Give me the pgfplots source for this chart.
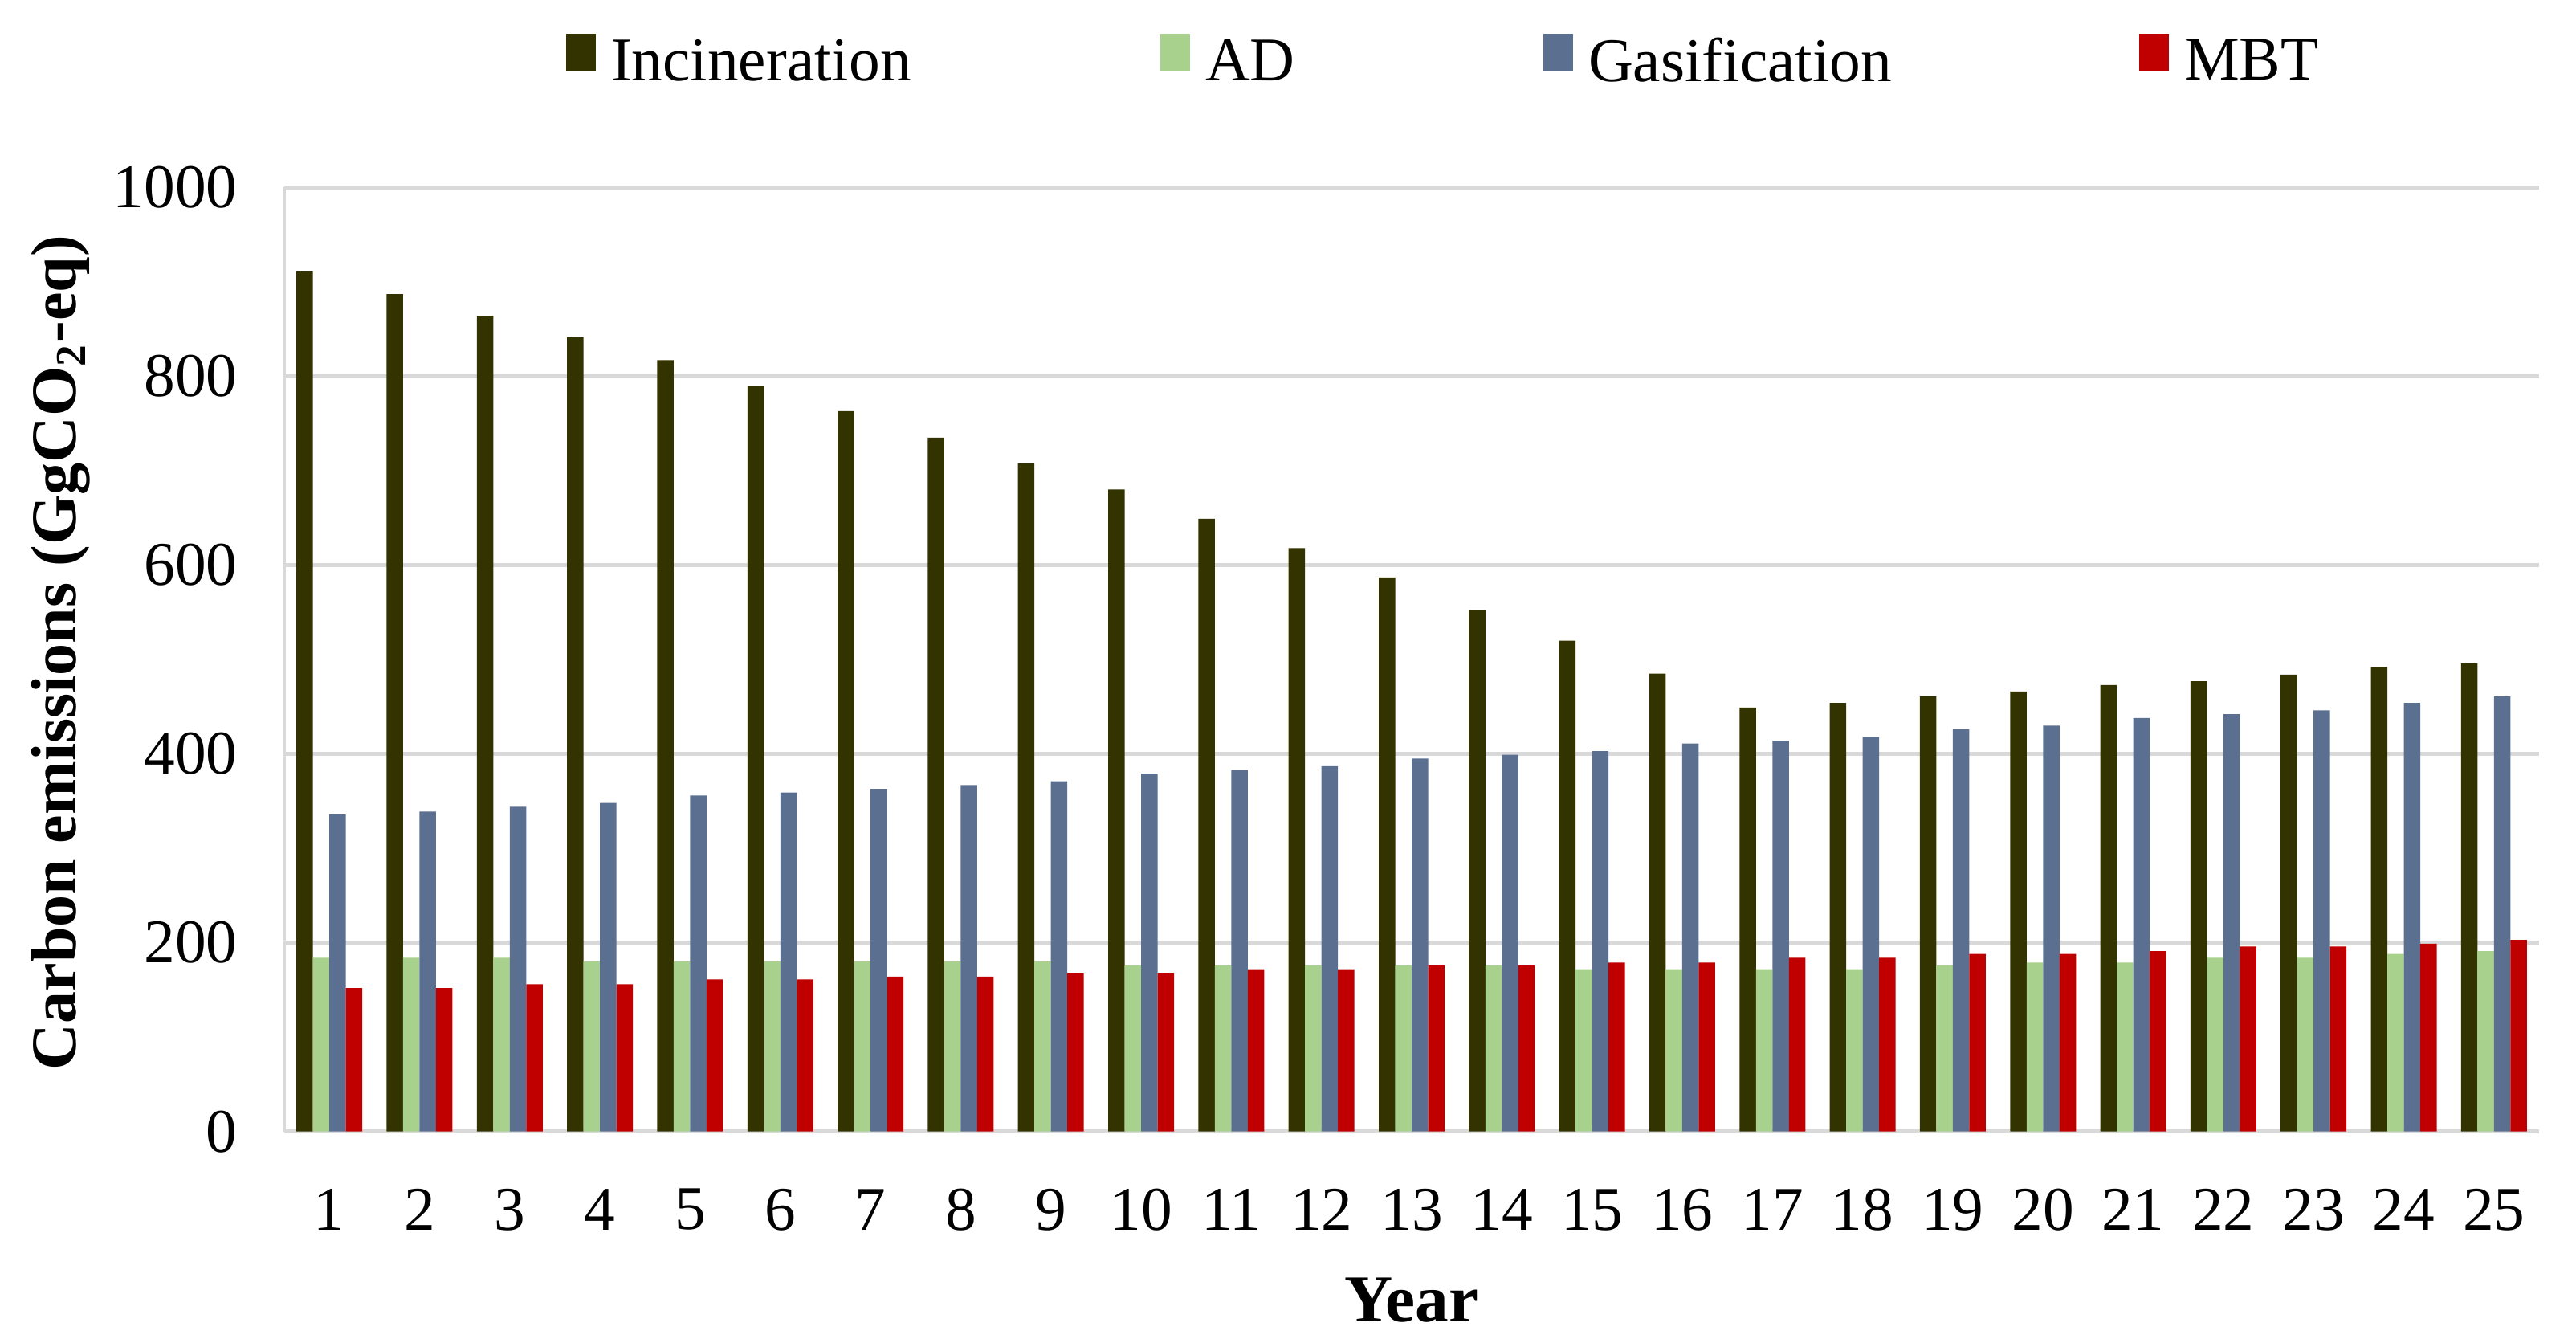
\documentclass[border=0pt]{standalone}
\usepackage{fontspec}
\setmainfont{Liberation Serif}
\usepackage{pgfplots}
\pgfplotsset{compat=1.18}
\definecolor{incc}{RGB}{51,51,0}
\definecolor{adc}{RGB}{169,209,142}
\definecolor{gasc}{RGB}{91,111,145}
\definecolor{mbtc}{RGB}{192,0,0}
\definecolor{gridgray}{RGB}{217,217,217}
\pgfplotsset{lg/.style={legend image code/.code={\fill[##1] (0pt,-1.2pt) rectangle (5.6pt,5.6pt); \path (8.4pt,0pt);}}}
\newcommand{\tfont}{\fontsize{11.6}{13.5}\selectfont}
\begin{document}
\begin{tikzpicture}
\useasboundingbox (0,0) rectangle (481.2pt,250pt);
\begin{axis}[
  at={(53.1pt,38.7pt)}, anchor=south west,
  scale only axis, width=421.2pt, height=176.3pt,
  ybar=0pt, bar width=3.075pt,
  xmin=0.5, xmax=25.5, ymin=0, ymax=1000,
  xtick={1,...,25}, ytick={0,200,...,1000},
  major tick length=0pt,
  axis lines*=left,
  axis line style={-, draw=gridgray, line width=0.7pt},
  ymajorgrids, grid style={gridgray, line width=0.7pt},
  /pgf/number format/assume math mode=true,
  /pgf/number format/1000 sep={},
  yticklabel style={anchor=east, inner sep=0pt, xshift=-8.6pt, font=\tfont},
  xticklabel style={anchor=center, inner sep=0pt, yshift=-14.6pt, font=\tfont},
  ylabel={\textbf{Carbon emissions (GgCO\textsubscript{2}-eq)}},
  ylabel style={at={(axis description cs:-0.099,0.507)}, anchor=center, rotate=0, font=\fontsize{12}{14}\selectfont},
  xlabel={\textbf{Year}},
  xlabel style={at={(axis description cs:0.5,-0.1787)}, anchor=center, font=\fontsize{12.5}{14}\selectfont},
  legend columns=4,
  legend style={at={(0.125,1.133)}, anchor=west, draw=none, inner sep=0pt, outer sep=0pt,
    column sep=0pt, font=\tfont, nodes={inner sep=0pt}},
]
\addplot[fill=incc, draw=none, lg] coordinates {
(1,911) (2,887) (3,864) (4,841) (5,817) (6,790) (7,763) (8,735) (9,708) (10,680)
(11,649) (12,618) (13,587) (14,552) (15,520) (16,485) (17,449) (18,454) (19,461) (20,466)
(21,473) (22,477) (23,484) (24,492) (25,496)};
\addlegendentry{\makebox[102.6pt][l]{Incineration}}
\addplot[fill=adc, draw=none, lg] coordinates {
(1,184) (2,184) (3,184) (4,180) (5,180) (6,180) (7,180) (8,180) (9,180) (10,176)
(11,176) (12,176) (13,176) (14,176) (15,172) (16,172) (17,172) (18,172) (19,176) (20,179)
(21,179) (22,184) (23,184) (24,188) (25,191)};
\addlegendentry{\makebox[63.15pt][l]{AD}}
\addplot[fill=gasc, draw=none, lg] coordinates {
(1,336) (2,339) (3,344) (4,348) (5,356) (6,359) (7,363) (8,367) (9,371) (10,379)
(11,383) (12,387) (13,395) (14,399) (15,403) (16,411) (17,414) (18,418) (19,426) (20,430)
(21,438) (22,442) (23,446) (24,454) (25,461)};
\addlegendentry{\makebox[102.9pt][l]{Gasification}}
\addplot[fill=mbtc, draw=none, lg] coordinates {
(1,152) (2,152) (3,156) (4,156) (5,161) (6,161) (7,164) (8,164) (9,168) (10,168)
(11,172) (12,172) (13,176) (14,176) (15,179) (16,179) (17,184) (18,184) (19,188) (20,188)
(21,191) (22,196) (23,196) (24,199) (25,203)};
\addlegendentry{MBT}
\end{axis}
\end{tikzpicture}
\end{document}
